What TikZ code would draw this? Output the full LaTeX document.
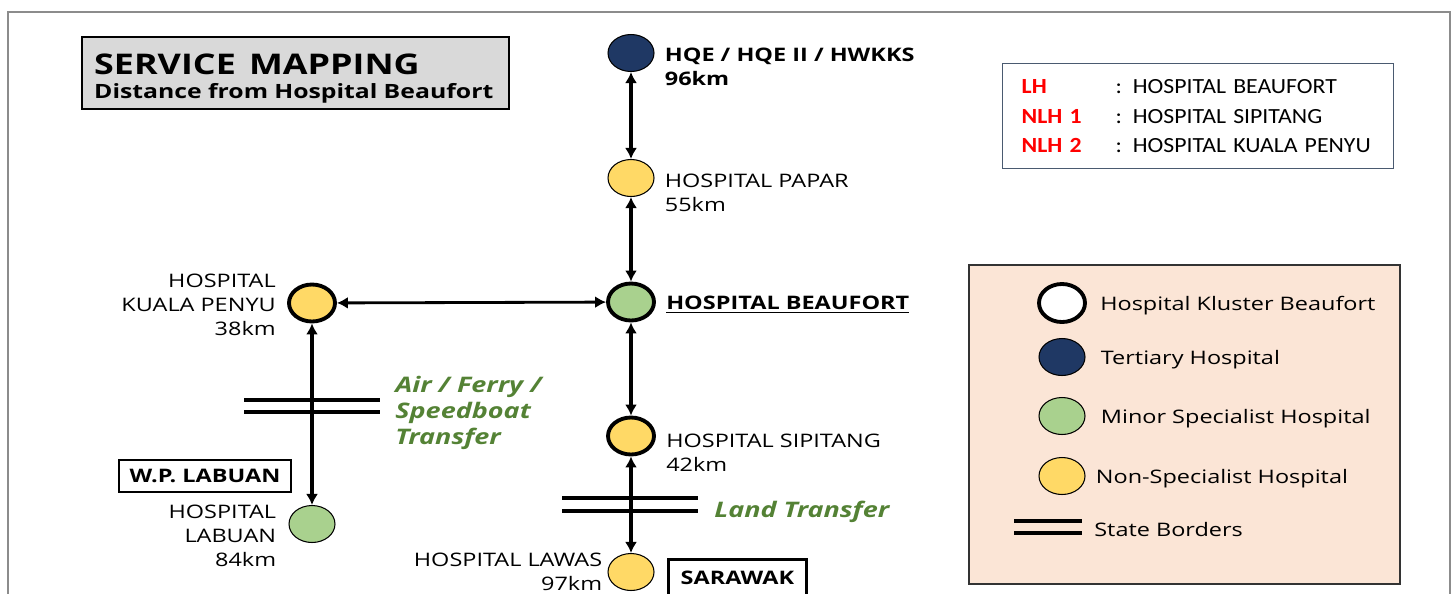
\documentclass[tikz,border=0pt]{standalone}
\usepackage{fontspec}
\setmainfont{Open Sans}[FakeStretch=1.26]
\newfontfamily\boxfont{Carlito}[FakeStretch=1.1]
\usetikzlibrary{positioning,shapes.geometric,arrows.meta}
\definecolor{navyblue}{HTML}{1F3864}
\definecolor{minorgreen}{HTML}{A9D18E}
\definecolor{nonspecyellow}{HTML}{FFD966}
\definecolor{transfergreen}{HTML}{548235}
\definecolor{titlegray}{HTML}{D9D9D9}
\definecolor{legendfill}{HTML}{FBE5D6}
\definecolor{keyborder}{HTML}{4A5A70}
\definecolor{framegray}{HTML}{8C8C8C}

\begin{document}
\begin{tikzpicture}[x=0.02cm,y=-0.02cm,font=\fontsize{10.6}{13.6}\selectfont]
	\tikzstyle{hosp}=[draw,ellipse,minimum width=0.92cm,minimum height=0.74cm,inner sep=0pt,line width=0.6pt]
	\tikzstyle{cluster}=[line width=2.2pt]
	\tikzstyle{tertiary}=[hosp,fill=navyblue]
	\tikzstyle{minor}=[hosp,fill=minorgreen]
	\tikzstyle{nonspec}=[hosp,fill=nonspecyellow]
	\tikzstyle{lbl}=[inner sep=0pt,align=left]
	\tikzstyle{link}=[{Latex[length=2.2mm,width=2.4mm]}-{Latex[length=2.2mm,width=2.4mm]},line width=2.2pt]
	\tikzstyle{border}=[line width=2.2pt]
	\tikzstyle{statebox}=[draw,line width=1.6pt,font=\fontsize{10.6}{12}\selectfont\bfseries,inner sep=0pt]
	\tikzstyle{transfer}=[lbl,color=transfergreen,font=\fontsize{12.2}{15}\selectfont\bfseries\itshape]

	\useasboundingbox (0,0) rectangle (1454,593);
	\draw[framegray,line width=0.8pt] (8,620) -- (8,12) -- (1450,12) -- (1450,620);

	\node[draw,fill=titlegray,line width=1.4pt,anchor=north west,minimum width=8.54cm,minimum height=1.44cm,inner xsep=0.24cm,text width=8.06cm,align=left](title) at (81,36){{\fontsize{16.2}{18}\selectfont\bfseries\rule{0pt}{18pt}SERVICE\hspace{0.14cm} MAPPING}\\[0pt]{\fontsize{11.2}{15}\selectfont\bfseries Distance from Hospital Beaufort}};

	% hospitals
	\node[tertiary](hqe) at (631,53){};
	\node[nonspec](papar) at (631,178){};
	\node[minor,cluster](beaufort) at (631,302){};
	\node[nonspec,cluster](sipitang) at (631,436){};
	\node[nonspec](lawas) at (631,572){};
	\node[nonspec,cluster](kuala_penyu) at (312,303){};
	\node[minor](labuan) at (312,524){};

	\node[lbl,right=0.2cm of hqe,yshift=-0.28cm,font=\fontsize{10.6}{13.6}\selectfont\bfseries](hqe_label){HQE / HQE II / HWKKS\\96km};
	\node[lbl,right=0.2cm of papar,yshift=-0.3cm](papar_label){HOSPITAL PAPAR\\55km};
	\node[lbl,right=0.2cm of beaufort,yshift=-0.05cm,font=\fontsize{10.6}{13.6}\selectfont\bfseries](beaufort_label){\underline{HOSPITAL BEAUFORT}};
	\node[lbl,right=0.2cm of sipitang,yshift=-0.34cm](sipitang_label){HOSPITAL SIPITANG\\42km};
	\node[lbl,align=right,left=0.1cm of lawas](lawas_label){HOSPITAL LAWAS\\97km};
	\node[lbl,align=right,left=0.22cm of kuala_penyu,yshift=-0.04cm](kuala_penyu_label){HOSPITAL\\KUALA PENYU\\38km};
	\node[lbl,align=right,left=0.24cm of labuan,yshift=-0.24cm](labuan_label){HOSPITAL\\LABUAN\\84km};

	\draw[link](hqe) -- (papar);
	\draw[link](papar) -- (beaufort);
	\draw[link](beaufort) -- (sipitang);
	\draw[link](sipitang) -- (lawas);
	\draw[link,line width=1.6pt](kuala_penyu) -- (beaufort);
	\draw[link](kuala_penyu) -- (labuan);

	% state borders
	\draw[border](244,400) -- (380,400);
	\draw[border](244,412) -- (380,412);
	\draw[border](562,498) -- (698,498);
	\draw[border](562,511) -- (698,511);

	\node[transfer,anchor=west](sea_transfer) at (395,413){Air / Ferry /\\Speedboat\\Transfer};
	\node[transfer,anchor=west](land_transfer) at (714,512){Land Transfer};

	\node[statebox,minimum width=3.44cm,minimum height=0.64cm](labuan_state) at (205,476){W.P. LABUAN};
	\node[statebox,minimum width=2.76cm,minimum height=0.72cm,anchor=north west](sarawak_state) at (667,558){SARAWAK};

	% abbreviations
	\node[draw=keyborder,line width=0.8pt,anchor=north west,minimum width=7.82cm,minimum height=2.1cm,inner xsep=0.38cm,text width=7.06cm,align=left,font=\boxfont\fontsize{12.3}{16.8}\selectfont](abbrev) at (1002,63){\makebox[1.88cm][l]{\color{red}\bfseries LH}: HOSPITAL BEAUFORT\\\makebox[1.88cm][l]{\color{red}\bfseries NLH 1}: HOSPITAL SIPITANG\\\makebox[1.88cm][l]{\color{red}\bfseries NLH 2}: HOSPITAL KUALA PENYU};

	% legend
	\node[draw=black!80,fill=legendfill,line width=1pt,anchor=north west,minimum width=8.62cm,minimum height=6.38cm](legend) at (968,264){};
	\node[hosp,cluster,fill=white,minimum height=0.76cm](key_cluster) at (1062,303){};
	\node[tertiary](key_tertiary) at (1062,357){};
	\node[minor](key_minor) at (1062,416){};
	\node[nonspec](key_nonspec) at (1062,476){};
	\draw[border](1014,521) -- (1082,521);
	\draw[border](1014,533) -- (1082,533);
	\coordinate(key_border) at (1082,527);

	\node[lbl,right=0.26cm of key_cluster,yshift=-0.05cm](key_cluster_text){Hospital Kluster Beaufort};
	\node[lbl,right=0.3cm of key_tertiary,yshift=-0.05cm](key_tertiary_text){Tertiary Hospital};
	\node[lbl,right=0.3cm of key_minor,yshift=-0.05cm](key_minor_text){Minor Specialist Hospital};
	\node[lbl,right=0.2cm of key_nonspec,yshift=-0.05cm](key_nonspec_text){Non-Specialist Hospital};
	\node[lbl,right=0.24cm of key_border,yshift=-0.05cm](key_border_text){State Borders};
\end{tikzpicture}
\end{document}
